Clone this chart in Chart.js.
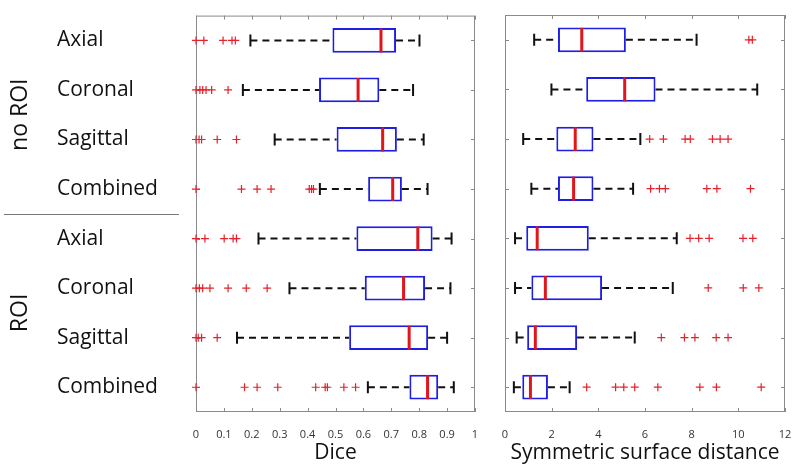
<!DOCTYPE html>
<html>
<head>
<meta charset="utf-8">
<script src="https://cdn.jsdelivr.net/npm/chart.js@4"></script>
<style>
  html, body { margin: 0; padding: 0; background: #fff; }
  #wrap { position: relative; width: 800px; height: 472px; }
  canvas { position: absolute; top: 0; }
  #diceChart { left: 0; }
  #ssdChart { left: 490px; }
</style>
</head>
<body>
<div id="wrap">
  <canvas id="diceChart" width="490" height="472"></canvas>
  <canvas id="ssdChart" width="310" height="472"></canvas>
</div>
<script>
// Rows, top to bottom
const rowLabels = ['Axial', 'Coronal', 'Sagittal', 'Combined', 'Axial', 'Coronal', 'Sagittal', 'Combined'];
const groupLabels = ['no ROI', 'ROI'];
const groupCenters = [1.5, 5.5];
const groupSplit = 3.5;

const diceTicks = [0, 0.1, 0.2, 0.3, 0.4, 0.5, 0.6, 0.7, 0.8, 0.9, 1];
const ssdTicks = [0, 2, 4, 6, 8, 10, 12];

// Dice box plot stats
const diceLow  = [0.195, 0.168, 0.282, 0.444, 0.224, 0.335, 0.147, 0.616];
const diceQ1   = [0.489, 0.441, 0.504, 0.617, 0.575, 0.605, 0.549, 0.765];
const diceMed  = [0.663, 0.581, 0.669, 0.705, 0.795, 0.744, 0.764, 0.830];
const diceQ3   = [0.717, 0.657, 0.720, 0.738, 0.848, 0.821, 0.832, 0.868];
const diceHigh = [0.801, 0.778, 0.816, 0.830, 0.916, 0.912, 0.900, 0.924];
const diceOut = [
    [0, 0.028, 0.097, 0.129, 0.141],
    [0, 0.014, 0.024, 0.036, 0.056, 0.115],
    [0, 0.011, 0.020, 0.076, 0.145],
    [0, 0.163, 0.219, 0.269, 0.406, 0.414, 0.421],
    [0, 0.032, 0.101, 0.133, 0.145],
    [0, 0.012, 0.024, 0.050, 0.115, 0.180, 0.255],
    [0, 0.008, 0.020, 0.076],
    [0, 0.174, 0.219, 0.293, 0.429, 0.463, 0.471, 0.530, 0.572]
];

// Symmetric surface distance box plot stats
const ssdLow  = [1.25, 1.99, 0.78, 1.13, 0.43, 0.43, 0.50, 0.38];
const ssdQ1   = [2.27, 3.48, 2.20, 2.27, 0.91, 1.13, 0.95, 0.74];
const ssdMed  = [3.29, 5.13, 3.01, 2.94, 1.38, 1.73, 1.30, 1.09];
const ssdQ3   = [5.18, 6.45, 3.79, 3.79, 3.59, 4.16, 3.09, 1.84];
const ssdHigh = [8.21, 10.81, 5.80, 5.49, 7.36, 7.19, 5.56, 2.77];
const ssdOut = [
    [10.45, 10.60],
    [],
    [6.20, 6.79, 7.72, 7.94, 8.89, 9.22, 9.56],
    [6.24, 6.62, 6.87, 8.65, 9.08, 10.52],
    [7.93, 8.30, 8.75, 10.20, 10.62],
    [8.71, 10.21, 10.88],
    [6.70, 7.69, 8.14, 9.05, 9.56],
    [3.50, 4.74, 5.09, 5.56, 6.55, 8.35, 9.06, 10.98]
];

const FONT = "'Open Sans', 'DejaVu Sans', sans-serif";
const BOX_BLUE = '#1e1ee6';
const MED_RED = '#e0161c';
const OUT_RED = '#e8202a';
const FRAME = '#8a8a8a';

// Frame, inward ticks and dashed whiskers drawn off the chart's own scales
function boxPlotPlugin(low, q1, q3, high) {
    return {
        id: 'boxframe',
        beforeDatasetsDraw(chart) {
            const { ctx, chartArea: a, scales: { x, y } } = chart;
            ctx.save();
            // frame
            ctx.strokeStyle = FRAME;
            ctx.lineWidth = 1;
            ctx.strokeRect(a.left + 0.5, a.top + 0.5, a.right - a.left - 1, a.bottom - a.top - 1);
            // inward ticks
            ctx.beginPath();
            x.ticks.forEach(t => {
                const px = Math.round(x.getPixelForValue(t.value)) + 0.5;
                ctx.moveTo(px, a.top); ctx.lineTo(px, a.top + 4);
                ctx.moveTo(px, a.bottom); ctx.lineTo(px, a.bottom - 4);
            });
            rowLabels.forEach((_, i) => {
                const py = Math.round(y.getPixelForValue(i)) + 0.5;
                ctx.moveTo(a.left, py); ctx.lineTo(a.left + 4, py);
                ctx.moveTo(a.right, py); ctx.lineTo(a.right - 4, py);
            });
            ctx.stroke();

            // whiskers
            ctx.strokeStyle = '#111';
            ctx.lineWidth = 2;
            low.forEach((lo, i) => {
                const py = y.getPixelForValue(i);
                ctx.setLineDash([7, 5]);
                ctx.beginPath();
                ctx.moveTo(x.getPixelForValue(lo), py);
                ctx.lineTo(x.getPixelForValue(q1[i]), py);
                ctx.moveTo(x.getPixelForValue(q3[i]), py);
                ctx.lineTo(x.getPixelForValue(high[i]), py);
                ctx.stroke();
                ctx.setLineDash([]);
                ctx.beginPath();
                [lo, high[i]].forEach(v => {
                    const px = x.getPixelForValue(v);
                    ctx.moveTo(px, py - 6);
                    ctx.lineTo(px, py + 6);
                });
                ctx.stroke();
            });
            ctx.restore();
        }
    };
}

const groupPlugin = {
    id: 'groups',
    afterDraw(chart) {
        const { ctx, scales: { y } } = chart;
        ctx.save();
        ctx.fillStyle = '#111';
        ctx.font = '23px ' + FONT;
        ctx.textAlign = 'center';
        ctx.textBaseline = 'middle';
        groupLabels.forEach((g, i) => {
            ctx.save();
            ctx.translate(20, y.getPixelForValue(groupCenters[i]));
            ctx.rotate(-Math.PI / 2);
            ctx.fillText(g, 0, 0);
            ctx.restore();
        });
        const sy = Math.round(y.getPixelForValue(groupSplit)) + 0.5;
        ctx.strokeStyle = '#777';
        ctx.lineWidth = 1;
        ctx.beginPath();
        ctx.moveTo(4, sy);
        ctx.lineTo(179, sy);
        ctx.stroke();
        ctx.restore();
    }
};

function buildChart(id, opts) {
    const boxes = rowLabels.map((_, i) => ({ y: i, x: [opts.q1[i], opts.q3[i]] }));
    const medians = opts.med.map((m, i) => ({ x: m, y: i }));
    const outliers = [];
    opts.out.forEach((vals, i) => vals.forEach(v => outliers.push({ x: v, y: i })));

    return new Chart(document.getElementById(id), {
        type: 'bar',
        data: {
            datasets: [
                {
                    type: 'bar',
                    indexAxis: 'y',
                    order: 3,
                    data: boxes,
                    backgroundColor: '#fff',
                    borderColor: BOX_BLUE,
                    borderWidth: 2,
                    borderSkipped: false,
                    categoryPercentage: 1,
                    barPercentage: 0.5
                },
                {
                    type: 'scatter',
                    order: 2,
                    data: medians,
                    pointStyle: 'line',
                    rotation: 90,
                    radius: 12,
                    borderColor: MED_RED,
                    borderWidth: 3
                },
                {
                    type: 'scatter',
                    order: 1,
                    data: outliers,
                    pointStyle: 'cross',
                    radius: 4,
                    borderColor: OUT_RED,
                    borderWidth: 1.2,
                    clip: false
                }
            ]
        },
        options: {
            responsive: false,
            animation: false,
            events: [],
            layout: { padding: opts.padding },
            plugins: { legend: { display: false }, tooltip: { enabled: false } },
            scales: {
                x: {
                    type: 'linear',
                    offset: false,
                    min: opts.ticks[0],
                    max: opts.ticks[opts.ticks.length - 1],
                    afterBuildTicks: s => { s.ticks = opts.ticks.map(v => ({ value: v })); },
                    afterFit: s => { s.height = 60; },
                    grid: { display: false },
                    border: { display: false },
                    ticks: {
                        autoSkip: false,
                        maxRotation: 0,
                        padding: 8,
                        color: '#333',
                        font: { family: FONT, size: 11 },
                        callback: v => String(v)
                    },
                    title: {
                        display: true,
                        text: opts.title,
                        color: '#111',
                        font: { family: FONT, size: 21 },
                        padding: { top: 0, bottom: 6 }
                    }
                },
                y: {
                    type: 'linear',
                    offset: false,
                    reverse: true,
                    min: -0.5,
                    max: rowLabels.length - 0.5,
                    display: opts.showRows,
                    afterBuildTicks: s => { s.ticks = rowLabels.map((_, i) => ({ value: i })); },
                    afterFit: s => { if (opts.showRows) s.width = 139; },
                    grid: { display: false },
                    border: { display: false },
                    ticks: {
                        autoSkip: false,
                        crossAlign: 'far',
                        color: '#111',
                        font: { family: FONT, size: 21 },
                        callback: v => rowLabels[v]
                    }
                }
            }
        },
        plugins: [boxPlotPlugin(opts.low, opts.q1, opts.q3, opts.high)].concat(opts.extra || [])
    });
}

buildChart('diceChart', {
    low: diceLow, q1: diceQ1, med: diceMed, q3: diceQ3, high: diceHigh, out: diceOut,
    ticks: diceTicks, title: 'Dice', showRows: true,
    padding: { left: 57, right: 13, top: 12, bottom: 0 },
    extra: [groupPlugin]
});

buildChart('ssdChart', {
    low: ssdLow, q1: ssdQ1, med: ssdMed, q3: ssdQ3, high: ssdHigh, out: ssdOut,
    ticks: ssdTicks, title: 'Symmetric surface distance', showRows: false,
    padding: { left: 13, right: 15, top: 12, bottom: 0 }
});
</script>
</body>
</html>
